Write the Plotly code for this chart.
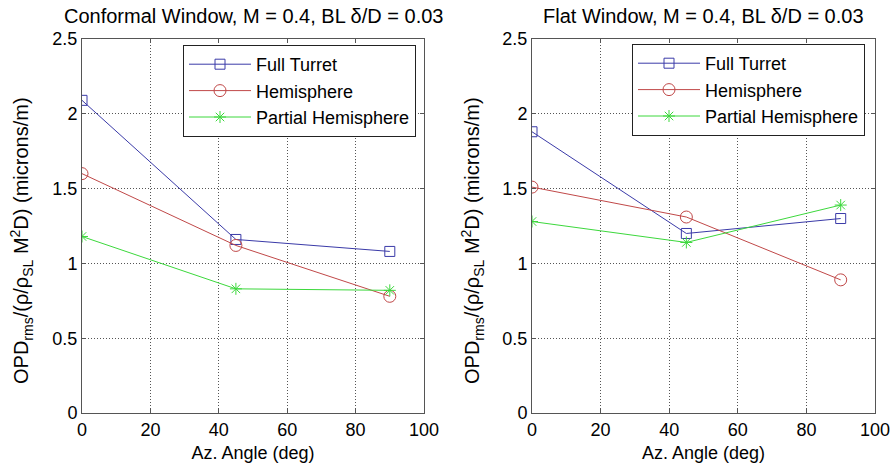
import plotly.graph_objects as go

angles = [0, 45, 90]

# Conformal window
conf_full_turret = [2.09, 1.16, 1.08]
conf_hemisphere = [1.60, 1.12, 0.78]
conf_partial = [1.18, 0.83, 0.82]

# Flat window
flat_full_turret = [1.88, 1.20, 1.30]
flat_hemisphere = [1.51, 1.31, 0.89]
flat_partial = [1.28, 1.14, 1.39]

series_names = ["Full Turret", "Hemisphere", "Partial Hemisphere"]
titles = ["Conformal Window, M = 0.4, BL δ/D = 0.03", "Flat Window, M = 0.4, BL δ/D = 0.03"]
x_ticks = [0, 20, 40, 60, 80, 100]
y_ticks = [0, 0.5, 1, 1.5, 2, 2.5]
y_tick_text = ["0", "0.5", "1", "1.5", "2", "2.5"]

colors = ["#3a3aa8", "#c04848", "#3cd83c"]
symbols = ["square-open", "circle-open", "asterisk-open"]
sizes = [10, 12, 10]

FONT = "Liberation Sans"

fig = go.Figure()

panels = [
    (conf_full_turret, conf_hemisphere, conf_partial),
    (flat_full_turret, flat_hemisphere, flat_partial),
]
for p, data in enumerate(panels):
    xa = "x" if p == 0 else "x2"
    ya = "y" if p == 0 else "y2"
    lg = "legend" if p == 0 else "legend2"
    for i, vals in enumerate(data):
        fig.add_trace(go.Scatter(
            x=angles, y=vals, name=series_names[i], mode="lines+markers",
            line=dict(color=colors[i], width=1),
            marker=dict(symbol=symbols[i], size=sizes[i], color=colors[i],
                        line=dict(color=colors[i], width=1)),
            xaxis=xa, yaxis=ya, legend=lg,
        ))

W, H = 891, 464
ml, mr, mt, mb = 82, 16, 39, 51
pw = W - ml - mr
ph = H - mt - mb

axis_common = dict(
    showline=True, linecolor="#555555", linewidth=1, mirror="ticks",
    ticks="inside", ticklen=4, tickcolor="#555555", automargin=False,
    showgrid=True, gridcolor="#555555", griddash="1px,2px", gridwidth=1,
    zeroline=False, tickfont=dict(size=18, color="black", family=FONT),
)

ytitle = "OPD<sub>rms</sub>/(ρ/ρ<sub>SL</sub> M<sup>2</sup>D) (microns/m)"

fig.update_layout(
    width=W, height=H,
    margin=dict(l=ml, r=mr, t=mt, b=mb, autoexpand=False),
    paper_bgcolor="white", plot_bgcolor="white",
    font=dict(family=FONT, color="black", size=18),
    xaxis=dict(domain=[0, 342 / pw], range=[0, 100], tickvals=x_ticks, anchor="y",
               title=dict(text="Az. Angle (deg)", font=dict(size=18), standoff=7), **axis_common),
    xaxis2=dict(domain=[450 / pw, 1], range=[0, 100], tickvals=x_ticks, anchor="y2",
                title=dict(text="Az. Angle (deg)", font=dict(size=18), standoff=7), **axis_common),
    yaxis=dict(range=[0, 2.5], tickvals=y_ticks, ticktext=y_tick_text, anchor="x", **axis_common),
    yaxis2=dict(range=[0, 2.5], tickvals=y_ticks, ticktext=y_tick_text, anchor="x2", **axis_common),
    legend=dict(x=(183 - ml) / pw, y=(413 - 45) / ph, xanchor="left", yanchor="top",
                bgcolor="white", bordercolor="#222222", borderwidth=1,
                font=dict(size=18, family=FONT), tracegroupgap=0, itemwidth=62),
    legend2=dict(x=(632 - ml) / pw, y=(413 - 44) / ph, xanchor="left", yanchor="top",
                 bgcolor="white", bordercolor="#222222", borderwidth=1,
                 font=dict(size=18, family=FONT), tracegroupgap=0, itemwidth=62),
    showlegend=True,
)

centers = [(82 + 424) / 2, (532 + 875) / 2]
for c, t in zip(centers, titles):
    fig.add_annotation(text=t, x=(c - ml) / pw, y=1, xref="paper", yref="paper",
                       xanchor="center", yanchor="middle", yshift=23, showarrow=False,
                       font=dict(size=20, family=FONT, color="black"))

# y-axis titles placed as rotated annotations
for xpix in [22, 473]:
    fig.add_annotation(text=ytitle, x=(xpix - ml) / pw, y=(413 - 241) / ph,
                       xref="paper", yref="paper", xanchor="center", yanchor="middle",
                       textangle=-90, showarrow=False,
                       font=dict(size=20, family=FONT, color="black"))

fig.write_html("out.html")
